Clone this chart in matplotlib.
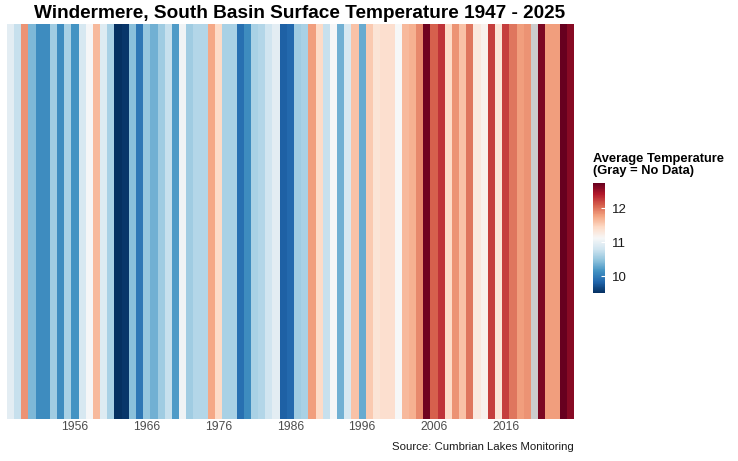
import matplotlib.pyplot as plt
import matplotlib as mpl
import numpy as np

plt.rcParams['font.family'] = ['Liberation Sans', 'DejaVu Sans']

years = np.arange(1947, 2026)
temps = [
    10.95, 10.75, 11.85, 10.40, 10.10, 10.10, 10.55, 10.10, 10.60, 10.15,  # 1947-1956
    10.85, 11.10, 11.65, 10.90, 10.60, 9.50, 9.55, 10.45, 9.95, 10.50,     # 1957-1966
    10.35, 10.55, 10.75, 10.20, 11.05, 10.55, 10.65, 10.65, 11.75, 11.45,  # 1967-1976
    10.60, 10.60, 9.90, 10.10, 10.60, 10.65, 10.80, 10.95, 9.80, 9.85,     # 1977-1986
    10.55, 10.60, 11.80, 11.45, 10.75, 11.10, 10.35, 10.85, 11.60, 10.30,  # 1987-1996
    11.55, 11.35, 11.40, 11.40, 11.12, 11.65, 11.70, 11.90, 12.70, 12.10,  # 1997-2006
    12.30, 11.45, 11.85, 11.60, 12.00, 11.30, 11.20, 12.25, 11.35, 12.25,  # 2007-2016
    12.00, 11.80, 11.85, np.nan, 12.65, 11.80, 11.80, 12.75, 12.60,        # 2017-2025
]
tick_years = [1956, 1966, 1976, 1986, 1996, 2006, 2016]
cbar_ticks = [10, 11, 12]

temps = np.array(temps)
norm = mpl.colors.Normalize(np.nanmin(temps), np.nanmax(temps))
cmap = plt.get_cmap('RdBu_r')
colors = [cmap(norm(t)) if not np.isnan(t) else '#cccccc' for t in temps]

fig = plt.figure(figsize=(7.38, 4.61), dpi=100)
ax = fig.add_axes([0.0092, 0.091, 0.7686, 0.857])
ax.bar(years, 1, width=1.0, color=colors, linewidth=0)
ax.set_xlim(years[0] - 0.5, years[-1] + 0.5)
ax.set_ylim(0, 1)
ax.set_yticks([])
ax.set_xticks(tick_years)
ax.set_xticklabels([str(y) for y in tick_years], fontsize=8.7, color='#4d4d4d')
ax.tick_params(axis='x', length=0, pad=1.5)
for s in ax.spines.values():
    s.set_visible(False)

cax = fig.add_axes([0.8035, 0.3644, 0.0163, 0.2386])
sm = mpl.cm.ScalarMappable(norm=norm, cmap=cmap)
cb = fig.colorbar(sm, cax=cax, ticks=cbar_ticks)
cb.outline.set_visible(False)
cax.tick_params(length=3, direction='in', color='white', width=0.8, labelsize=9.5,
                labelcolor='#1a1a1a', pad=5)

fig.text(593 / 738, 1 - 177 / 461, 'Average Temperature\n(Gray = No Data)',
         fontsize=9.3, fontweight='bold', ha='left', va='bottom', linespacing=1.0)

fig.text(300 / 738, 1 - 13 / 461,
         'Windermere, South Basin Surface Temperature 1947 - 2025',
         fontsize=13.7, fontweight='bold', ha='center', va='center')
fig.text(574 / 738, 1 - 447 / 461, 'Source: Cumbrian Lakes Monitoring',
         fontsize=8.2, ha='right', va='center', color='#1a1a1a')

fig.savefig('out.png', dpi=100, facecolor='white')
